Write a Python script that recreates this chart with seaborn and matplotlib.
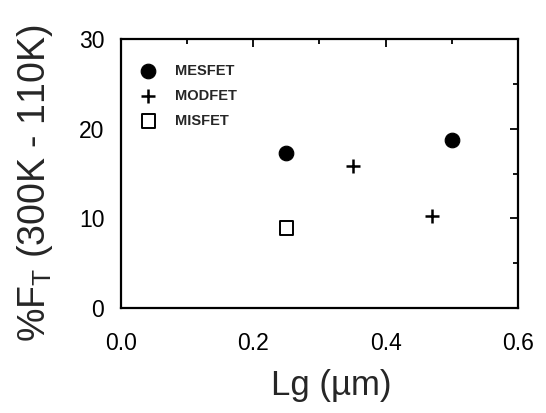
import pandas as pd
import matplotlib.pyplot as plt
import seaborn as sns
from matplotlib.ticker import MultipleLocator

# Values
MESFET_LG = [0.25, 0.50]
MESFET_FT = [17.3, 18.7]
MODFET_LG = [0.35, 0.47]
MODFET_FT = [15.8, 10.3]
MISFET_LG = [0.25]
MISFET_FT = [8.9]

X_TICKS = [0.0, 0.2, 0.4, 0.6]
Y_TICKS = [0, 10, 20, 30]


def draw_points(ax):
    """Draw the three device groups."""
    mes = pd.DataFrame({"lg": MESFET_LG, "ft": MESFET_FT})
    mod = pd.DataFrame({"lg": MODFET_LG, "ft": MODFET_FT})
    mis = pd.DataFrame({"lg": MISFET_LG, "ft": MISFET_FT})
    sns.scatterplot(data=mes, x="lg", y="ft", marker="o", s=110, color="black",
                    edgecolor="black", label="MESFET", ax=ax, zorder=3)
    sns.scatterplot(data=mod, x="lg", y="ft", marker="+", s=110, color="black",
                    linewidth=1.8, label="MODFET", ax=ax, zorder=3)
    sns.scatterplot(data=mis, x="lg", y="ft", marker="s", s=95, facecolor="none",
                    edgecolor="black", linewidth=1.4, label="MISFET", ax=ax, zorder=3)


def style_plot(ax):
    """Axis limits, ticks, labels."""
    ax.set(xlim=(0, 0.6), ylim=(0, 30), xticks=X_TICKS, yticks=Y_TICKS)
    ax.set_xticklabels([f"{t:.1f}" for t in X_TICKS])
    ax.set_yticklabels([str(t) for t in Y_TICKS])
    ax.xaxis.set_minor_locator(MultipleLocator(0.1))
    ax.yaxis.set_minor_locator(MultipleLocator(5))
    ax.tick_params(which="both", direction="in", top=True, right=True,
                   width=1.3, colors="black")
    ax.tick_params(which="major", length=6)
    ax.tick_params(which="minor", length=3.5)
    ax.tick_params(axis="x", labelsize=16.5, pad=17)
    ax.tick_params(axis="y", labelsize=16.5, pad=12)
    for spine in ax.spines.values():
        spine.set_linewidth(1.6)
        spine.set_color("black")

    ax.set_xlabel("Lg (\u00b5m)", fontsize=25)
    ax.set_ylabel("%F$_\\mathregular{T}$ (300K - 110K)", fontsize=27)
    ax.xaxis.set_label_coords(0.53, -0.225)
    ax.yaxis.set_label_coords(-0.165, 0.465)

    ax.legend(loc="upper left", bbox_to_anchor=(0.01, 0.962), frameon=False,
              labelspacing=0.75, handletextpad=1.2,
              handlelength=1.2, borderaxespad=0.6,
              prop={"weight": "bold", "size": 10.5})


def main():
    sns.set_style("white")
    plt.rcParams["font.family"] = ["Liberation Sans", "DejaVu Sans"]
    fig = plt.figure(figsize=(5.46, 4.13), dpi=100)
    ax = fig.add_axes([0.2216, 0.2542, 0.7271, 0.6514])
    draw_points(ax)
    style_plot(ax)
    fig.savefig("out.png", dpi=100)


if __name__ == "__main__":
    main()
